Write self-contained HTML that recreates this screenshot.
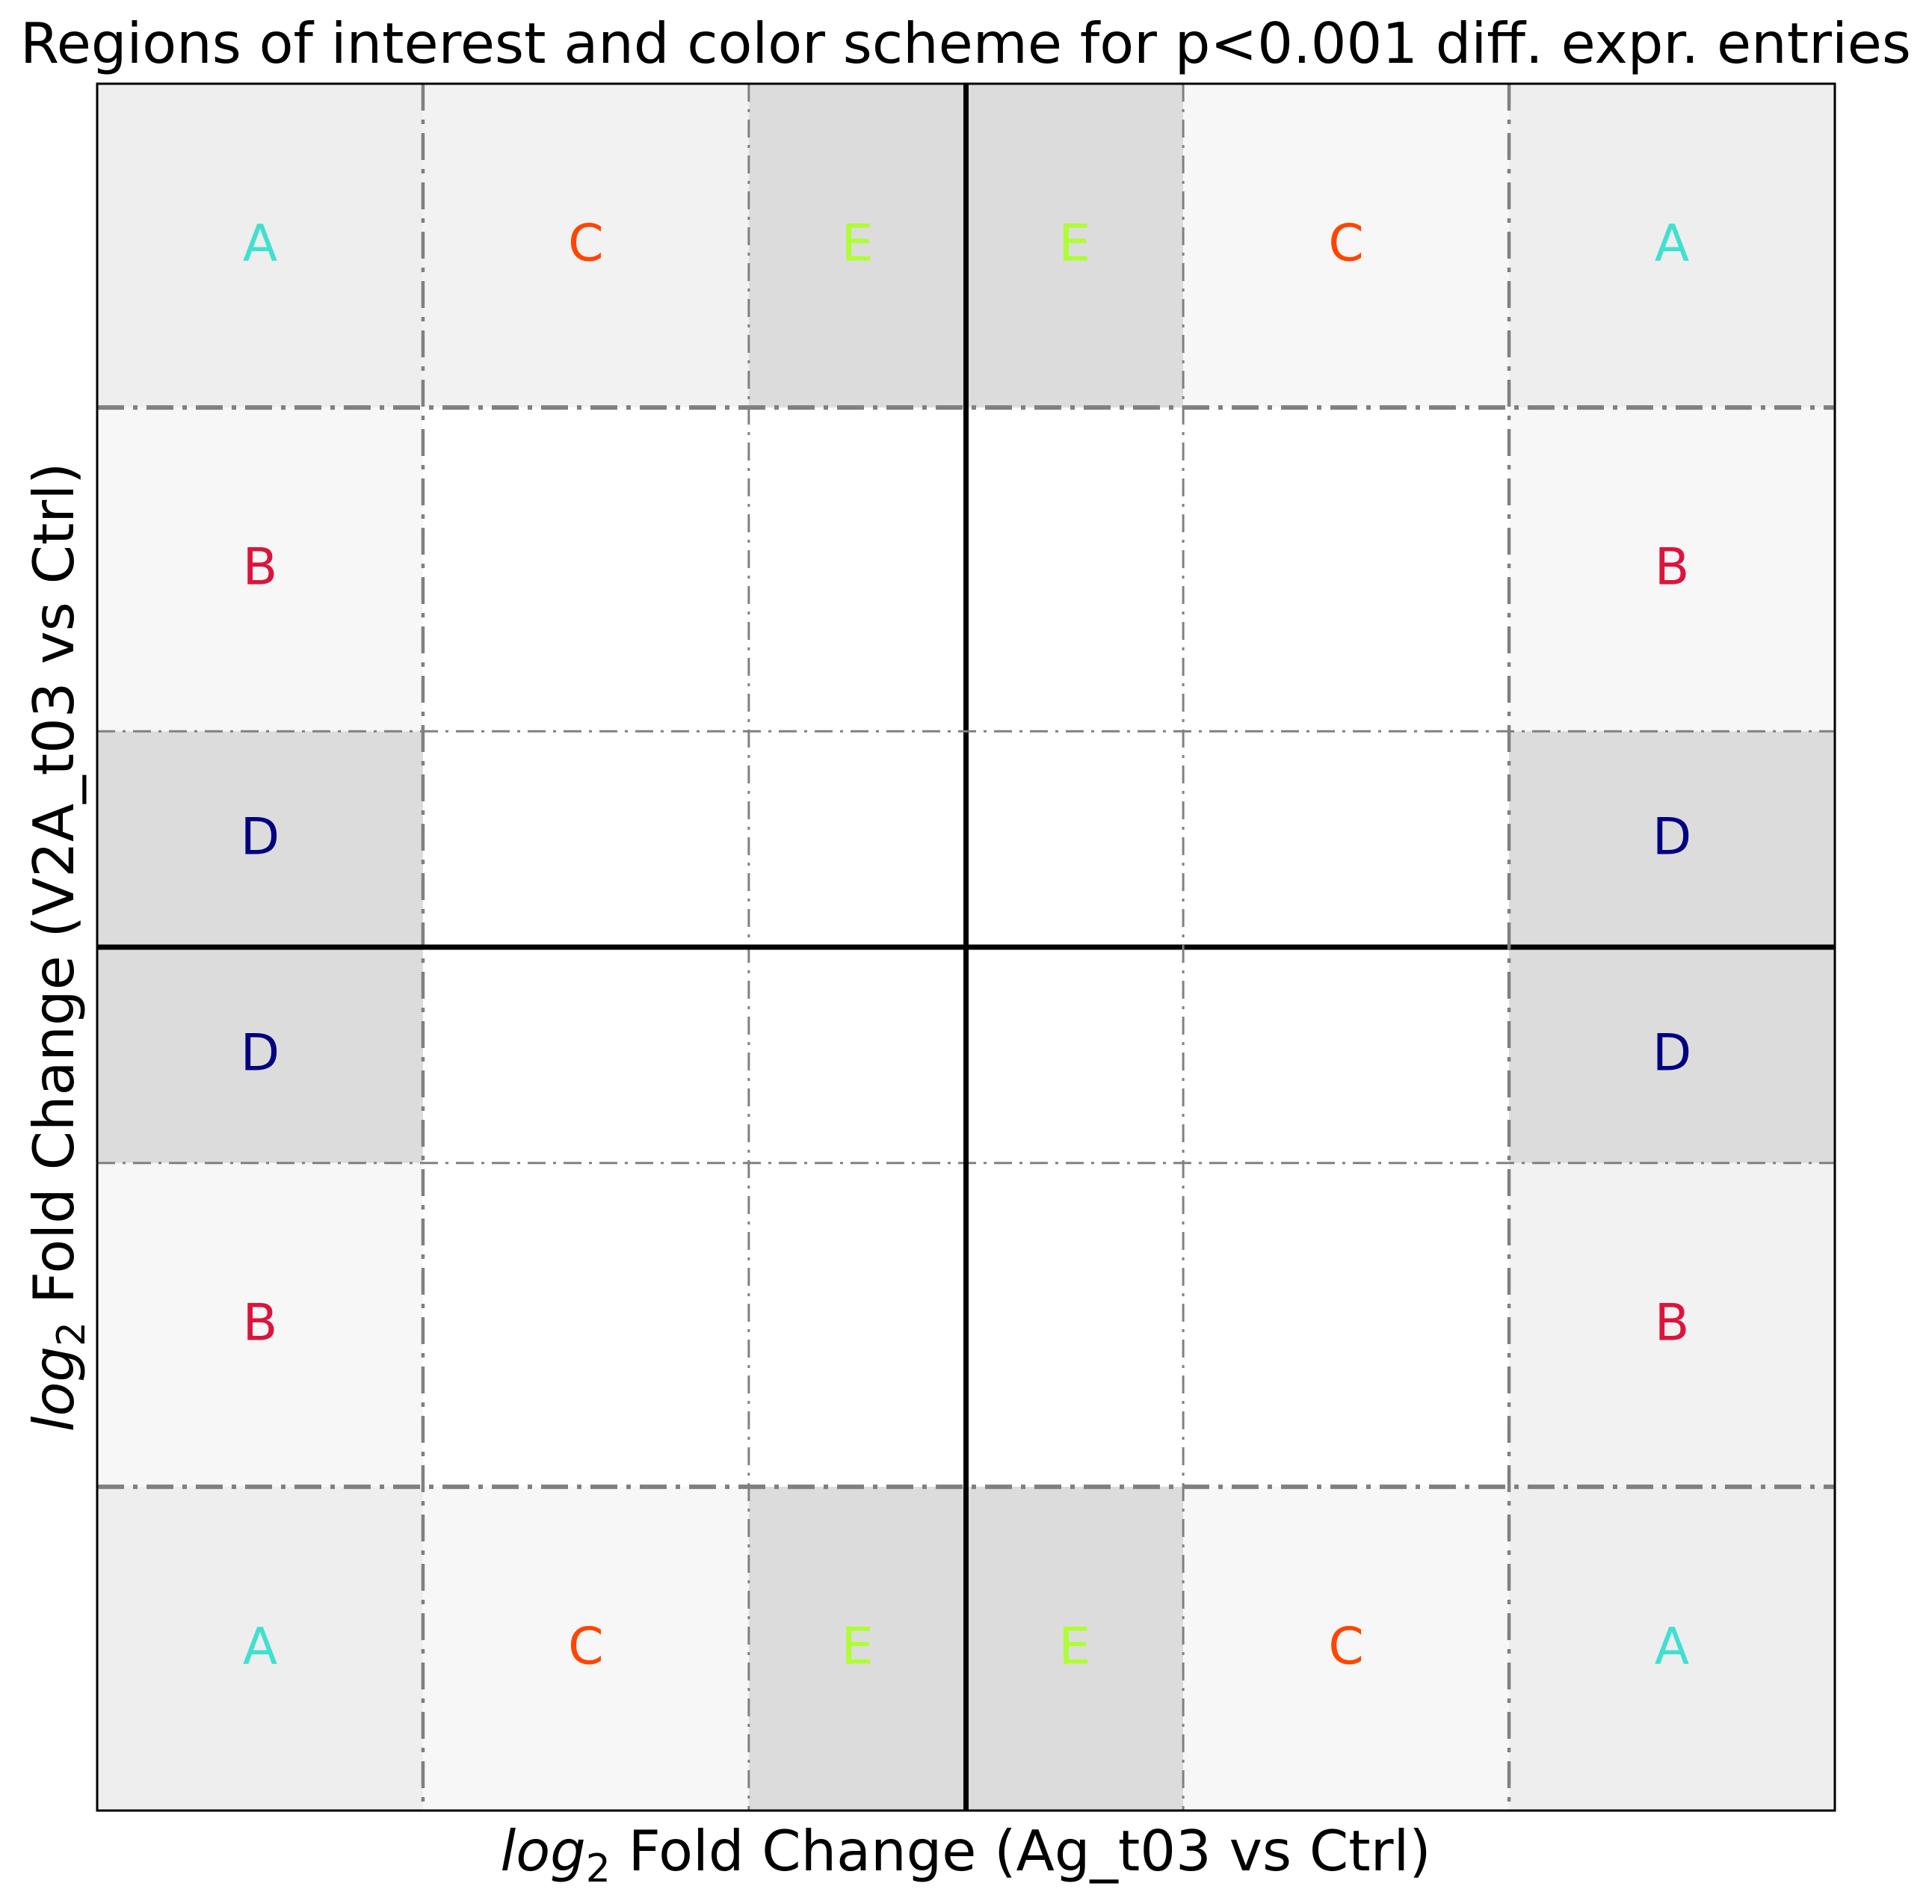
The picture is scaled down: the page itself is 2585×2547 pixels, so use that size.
<!DOCTYPE html>
<html><head><meta charset="utf-8"><style>
html,body{margin:0;padding:0;background:#fff;}
svg{display:block;font-family:"DejaVu Sans","Liberation Sans",sans-serif;}
</style></head><body>
<svg id="chart" width="2585" height="2547" viewBox="0 0 2585 2547" xmlns="http://www.w3.org/2000/svg">
<rect x="0" y="0" width="2585" height="2547" fill="#fff"/>
<g id="cells"></g>
<g id="lines"></g>
<g id="labels"></g>
<rect x="130" y="112" width="2325" height="2310" fill="none" stroke="#000" stroke-width="3"/>
<text x="1292" y="84" font-size="75" text-anchor="middle">Regions of interest and color scheme for p&lt;0.001 diff. expr. entries</text>
<text x="1292" y="2502" font-size="75" text-anchor="middle"><tspan font-style="italic">log</tspan><tspan font-size="52" dy="15">2</tspan><tspan dy="-15"> Fold Change (Ag_t03 vs Ctrl)</tspan></text>
<text transform="translate(98,1267) rotate(-90)" x="0" y="0" font-size="75" text-anchor="middle"><tspan font-style="italic">log</tspan><tspan font-size="52" dy="15">2</tspan><tspan dy="-15"> Fold Change (V2A_t03 vs Ctrl)</tspan></text>
</svg>
<script>
// Axis domain and thresholds
const xDomain = [-4, 4];
const yDomain = [-4, 4];
const thresholds = [-2.5, -1, 0, 1, 2.5];
// Region cells: [x0, x1, y0, y1]
const cellX0 = [-4, -2.5, -1, 0, 1, 2.5, -4, 2.5, -4, 2.5, -4, 2.5, -4, 2.5, -4, -2.5, -1, 0, 1, 2.5];
const cellX1 = [-2.5, -1, 0, 1, 2.5, 4, -2.5, 4, -2.5, 4, -2.5, 4, -2.5, 4, -2.5, -1, 0, 1, 2.5, 4];
const cellY0 = [2.5, 2.5, 2.5, 2.5, 2.5, 2.5, 1, 1, 0, 0, -1, -1, -2.5, -2.5, -4, -4, -4, -4, -4, -4];
const cellY1 = [4, 4, 4, 4, 4, 4, 2.5, 2.5, 1, 1, 0, 0, -1, -1, -2.5, -2.5, -2.5, -2.5, -2.5, -2.5];
const cellRegion = ["A","C","E","E","C","A","B","B","D","D","D","D","B","B","A","C","E","E","C","A"];
const cellShade = ["#eeeeee","#f2f2f2","#dcdcdc","#dcdcdc","#f7f7f7","#eeeeee","#f7f7f7","#f7f7f7","#dcdcdc","#dcdcdc","#dcdcdc","#dcdcdc","#f7f7f7","#f2f2f2","#eeeeee","#f7f7f7","#dcdcdc","#dcdcdc","#f7f7f7","#eeeeee"];
const regionNames = ["A","B","C","D","E"];
const regionColors = ["#40e0d0","#dc143c","#ff4500","#000080","#adff2f"];

const L=130,R=2455,T=112,B=2422;
const sx=v=>L+(v-xDomain[0])/(xDomain[1]-xDomain[0])*(R-L);
const sy=v=>B-(v-yDomain[0])/(yDomain[1]-yDomain[0])*(B-T);
const NS="http://www.w3.org/2000/svg";
const cells=document.getElementById('cells'),lines=document.getElementById('lines'),labels=document.getElementById('labels');
for(let i=0;i<cellX0.length;i++){
  const r=document.createElementNS(NS,'rect');
  const x=sx(cellX0[i]),x2=sx(cellX1[i]),y=sy(cellY1[i]),y2=sy(cellY0[i]);
  r.setAttribute('x',x);r.setAttribute('y',y);r.setAttribute('width',x2-x);r.setAttribute('height',y2-y);
  r.setAttribute('fill',cellShade[i]);
  
  
  cells.appendChild(r);
  const t=document.createElementNS(NS,'text');
  t.setAttribute('x',(x+x2)/2);t.setAttribute('y',(y+y2)/2+20);
  t.setAttribute('font-size','68');t.setAttribute('text-anchor','middle');
  t.setAttribute('fill',regionColors[regionNames.indexOf(cellRegion[i])]);
  t.textContent=cellRegion[i];
  
  
  labels.appendChild(t);
}
thresholds.forEach(v=>{
  const outer=Math.abs(v)===2.5, zero=v===0;
  const vl=document.createElementNS(NS,'line');
  vl.setAttribute('x1',sx(v));vl.setAttribute('x2',sx(v));vl.setAttribute('y1',T);vl.setAttribute('y2',B);
  const hl=document.createElementNS(NS,'line');
  hl.setAttribute('y1',sy(v));hl.setAttribute('y2',sy(v));hl.setAttribute('x1',L);hl.setAttribute('x2',R);
  if(zero){
    [vl,hl].forEach(l=>{l.setAttribute('stroke','#000');l.setAttribute('stroke-width','7');});
  } else {
    vl.setAttribute('stroke','#808080');hl.setAttribute('stroke','#808080');
    vl.setAttribute('stroke-width',outer?'4.5':'3');
    hl.setAttribute('stroke-width',outer?'6':'3');
    vl.setAttribute('stroke-dasharray',outer?'36 12 6 12':'24 10 4 10');
    hl.setAttribute('stroke-dasharray',outer?'36 12 6 12':'24 10 4 10');
  }
  
  
  
  
  lines.appendChild(vl);lines.appendChild(hl);
});
</script>
</body></html>
